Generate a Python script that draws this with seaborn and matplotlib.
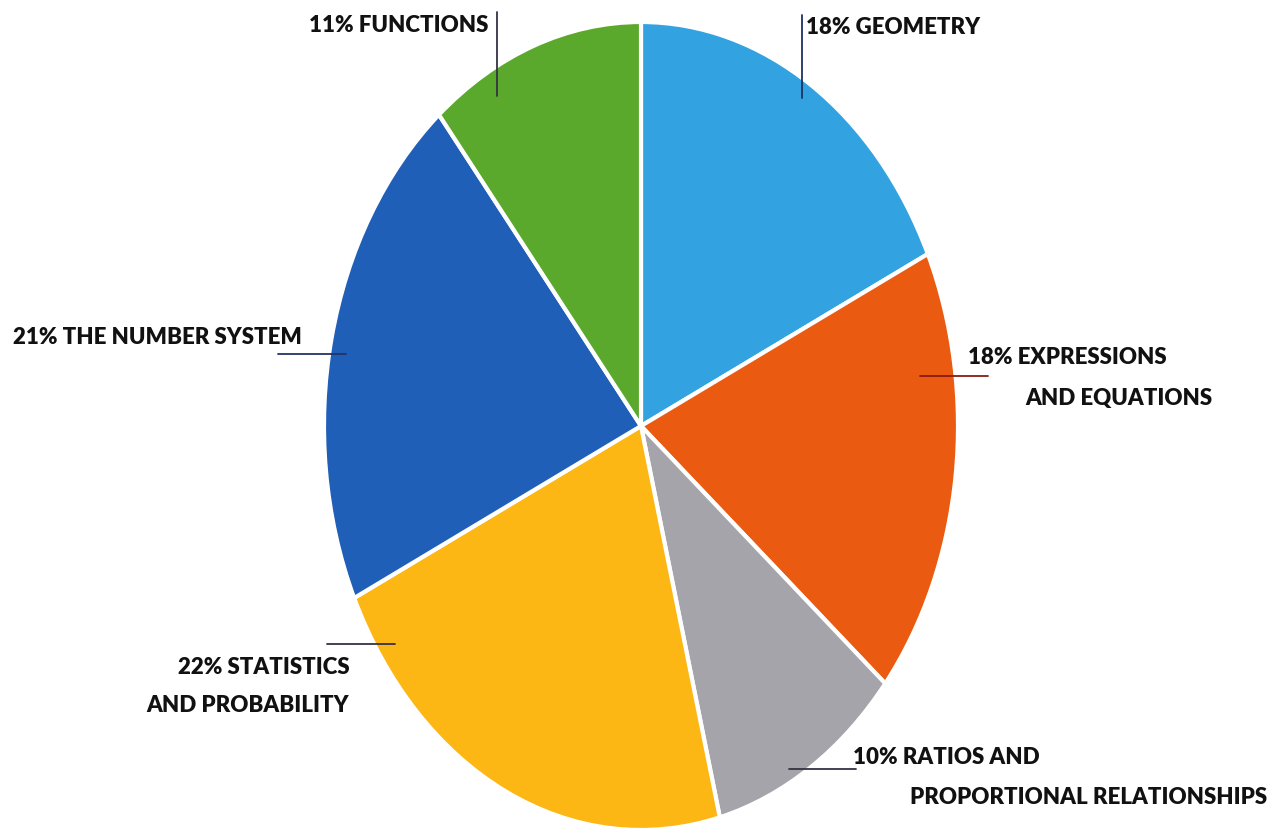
"""
Pie chart of math domain coverage
"""

import matplotlib
matplotlib.use("Agg")
import matplotlib.pyplot as plt
import seaborn as sns

# data (clockwise from 12 o'clock)
pcts = ["18%", "18%", "10%", "22%", "21%", "11%"]
values = [18, 18, 10, 22, 21, 11]
first_lines = ["GEOMETRY", "EXPRESSIONS", "RATIOS AND", "STATISTICS", "THE NUMBER SYSTEM", "FUNCTIONS"]
second_lines = ["", "AND EQUATIONS", "PROPORTIONAL RELATIONSHIPS", "AND PROBABILITY", "", ""]
colors = ["#33a2e0", "#ea5a10", "#a4a4aa", "#fcb714", "#1f5fb8", "#5aa92c"]

sns.set_theme(style="white")
plt.rcParams["font.family"] = ["Lato", "DejaVu Sans"]

W, H = 1271, 831
fig = plt.figure(figsize=(W / 100, H / 100), dpi=100)

# pie ellipse: centre (641, 426) px, rx 317, ry 404
cx, cy, rx, ry = 641, 426, 317, 404
ax = fig.add_axes([(cx - rx) / W, (H - cy - ry) / H, 2 * rx / W, 2 * ry / H])
ax.pie(values, colors=colors, startangle=90, counterclock=False,
       wedgeprops=dict(edgecolor="white", linewidth=3))
ax.set_aspect("auto")
ax.set_xlim(-1, 1)
ax.set_ylim(-1, 1)
ax.axis("off")


def px(x, y):
    # pixel position -> figure fraction
    return x / W, 1 - y / H


def leader(x0, y0, x1, y1, color="#333344"):
    fig.add_artist(plt.Line2D([x0 / W, x1 / W], [1 - y0 / H, 1 - y1 / H],
                              color=color, linewidth=1.3))


fs = 16
kw = dict(fontsize=fs, fontweight="heavy", color="#111111", va="center")

# leader lines
leader(497, 12, 497, 96)
leader(802, 15, 802, 98, color="#1c2f66")
leader(920, 376, 988, 376, color="#8a1a10")
leader(789, 769, 856, 769)
leader(327, 644, 395, 644)
leader(278, 354, 346, 354, color="#223366")

# labels
fig.text(*px(488, 25), f"{pcts[5]} {first_lines[5]}", ha="right", **kw)
fig.text(*px(806, 28), f"{pcts[0]} {first_lines[0]}", ha="left", **kw)
fig.text(*px(968, 358), f"{pcts[1]} {first_lines[1]}", ha="left", **kw)
fig.text(*px(1025, 398), second_lines[1], ha="left", **kw)
fig.text(*px(853, 757), f"{pcts[2]} {first_lines[2]}", ha="left", **kw)
fig.text(*px(910, 797), second_lines[2], ha="left", **kw)
fig.text(*px(350, 667), f"{pcts[3]} {first_lines[3]}", ha="right", **kw)
fig.text(*px(349, 706), second_lines[3], ha="right", **kw)
fig.text(*px(13, 338), f"{pcts[4]} {first_lines[4]}", ha="left", **kw)

fig.savefig("out.png", dpi=100, facecolor="white")
plt.close(fig)
